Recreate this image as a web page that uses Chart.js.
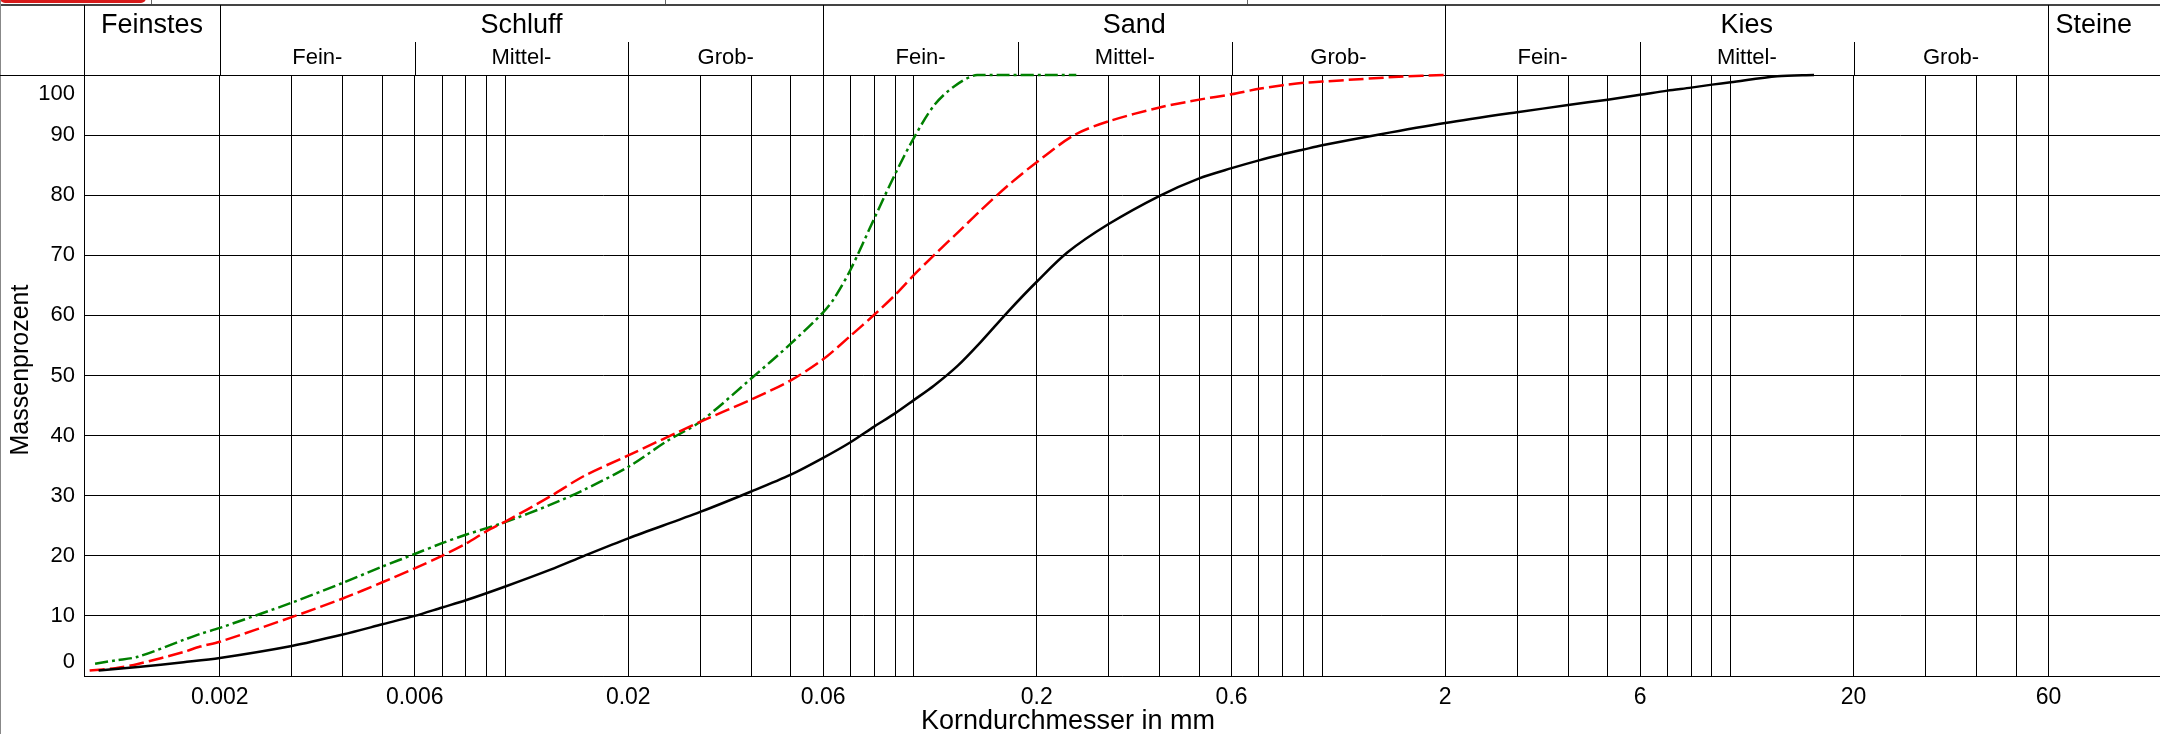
<!DOCTYPE html>
<html>
<head>
<meta charset="utf-8">
<script src="https://cdn.jsdelivr.net/npm/chart.js@4.4.1/dist/chart.umd.min.js"></script>
<style>
  html, body { margin: 0; padding: 0; background: #ffffff; }
  #wrap { position: relative; width: 2160px; height: 734px; overflow: hidden; }
  canvas { display: block; }
</style>
</head>
<body>
<div id="wrap"><canvas id="kornkurve" width="2160" height="734"></canvas></div>
<script>
const FONT = '"Liberation Sans", Arial, Helvetica, sans-serif';

// Probe 1 (schwarz, durchgezogen): Korndurchmesser in mm / Massenprozent
const d1 = [0.00101, 0.00126, 0.00163, 0.002, 0.003, 0.004, 0.005, 0.006, 0.007, 0.008, 0.01, 0.0129, 0.0156, 0.02, 0.03, 0.04, 0.05, 0.06, 0.07, 0.08, 0.09, 0.1, 0.112, 0.128, 0.146, 0.17, 0.2, 0.238, 0.3, 0.4, 0.5, 0.6, 0.7, 0.8, 0.9, 1.0, 1.38, 2, 3, 4, 5, 6, 7, 8, 9, 10, 13, 16];
const p1 = [0.9, 1.5, 2.3, 3.0, 5.0, 6.9, 8.6, 10.0, 11.4, 12.6, 14.9, 17.7, 20.0, 22.9, 27.3, 30.7, 33.5, 36.3, 38.9, 41.5, 43.7, 45.9, 48.3, 51.6, 55.6, 60.6, 65.6, 70.5, 75.2, 79.9, 82.8, 84.5, 85.8, 86.8, 87.6, 88.3, 90.1, 92.0, 93.8, 95.0, 95.9, 96.7, 97.4, 97.9, 98.4, 98.8, 99.8, 100];

// Probe 2 (rot, gestrichelt)
const d2 = [0.00096, 0.00111, 0.00126, 0.00163, 0.00179, 0.002, 0.003, 0.004, 0.005, 0.006, 0.007, 0.008, 0.009, 0.01, 0.0129, 0.0156, 0.02, 0.03, 0.04, 0.05, 0.06, 0.07, 0.08, 0.09, 0.1, 0.112, 0.13, 0.146, 0.17, 0.2, 0.247, 0.3, 0.4, 0.5, 0.6, 0.7, 0.8, 0.9, 1.0, 1.23, 1.54, 2.0];
const p2 = [0.9, 1.3, 2.0, 4.0, 4.9, 5.7, 9.8, 12.9, 15.6, 17.9, 20.0, 22.0, 24.1, 25.7, 29.9, 33.3, 36.7, 42.3, 46.0, 49.2, 52.7, 56.6, 60.1, 63.4, 66.7, 70.0, 74.2, 77.5, 81.6, 85.5, 90.0, 92.3, 94.6, 95.9, 96.8, 97.7, 98.3, 98.7, 98.9, 99.3, 99.7, 100];

// Probe 3 (grün, strichpunktiert)
const d3 = [0.00099, 0.00111, 0.00126, 0.00163, 0.00179, 0.002, 0.003, 0.004, 0.005, 0.006, 0.007, 0.008, 0.009, 0.01, 0.0129, 0.0156, 0.02, 0.0249, 0.03, 0.04, 0.05, 0.06, 0.0638, 0.07, 0.08, 0.09, 0.1, 0.112, 0.1255, 0.143, 0.25];
const p3 = [2.05, 2.6, 3.2, 6.0, 7.0, 8.0, 12.2, 15.5, 18.2, 20.3, 22.1, 23.5, 24.6, 25.6, 28.5, 31.0, 34.8, 39.1, 42.3, 49.5, 55.3, 60.5, 62.8, 67.6, 76.1, 83.5, 89.5, 94.9, 98.1, 100, 100];

// Achsen
const xTickLabels = ['0.002', '0.006', '0.02', '0.06', '0.2', '0.6', '2', '6', '20', '60'];
const yTickValues = [0, 10, 20, 30, 40, 50, 60, 70, 80, 90, 100];
const X_MIN = 0.00093;
const X_MAX = 112.5;

// Kornfraktionen (Kopfzeile)
const mainNames = ['Feinstes', 'Schluff', 'Sand', 'Kies', 'Steine'];
const mainEdges = [X_MIN, 0.002, 0.06, 2, 60, 100];
const subNames = ['Fein-', 'Mittel-', 'Grob-'];

// Gitterlinien: 1..9 je Dekade zwischen 0.002 und 60 mm
const gridValues = [];
for (let e = -3; e <= 1; e++) {
  for (let k = 1; k <= 9; k++) {
    const v = +(k * Math.pow(10, e)).toPrecision(6);
    if (v >= 0.002 - 1e-9 && v <= 60 + 1e-9) gridValues.push(v);
  }
}

function toPoints(ds, ps) { return ds.map((d, i) => ({ x: d, y: ps[i] })); }

function labelFor(v) {
  for (const t of xTickLabels) {
    if (Math.abs(parseFloat(t) / v - 1) < 1e-6) return t;
  }
  return '';
}

const TOP_Y = 5;
const SUB_Y = 42;

const headerPlugin = {
  id: 'kornHeader',
  // Rahmen und Trennlinien liegen unter den Kurven
  beforeDatasetsDraw(chart) {
    const ctx = chart.ctx;
    const xs = chart.scales.x;
    const area = chart.chartArea;
    const W = chart.width, H = chart.height;
    const px = v => xs.getPixelForValue(v);
    const top = Math.round(area.top);

    ctx.save();
    ctx.fillStyle = '#d71a1a';
    ctx.beginPath();
    ctx.roundRect(0, -8, 146, 11, 5);
    ctx.fill();
    ctx.fillStyle = '#666';
    [151, 665, 1247].forEach(x => ctx.fillRect(x, 0, 1, TOP_Y));

    ctx.fillStyle = '#444';
    ctx.fillRect(0, TOP_Y - 1, W, 2);
    ctx.fillStyle = '#888';
    ctx.fillRect(0, 0, 1, H);
    ctx.fillStyle = '#000';
    ctx.fillRect(Math.round(area.left), TOP_Y, 1, top - TOP_Y);
    ctx.fillRect(0, top, W, 1);

    for (let i = 1; i <= 4; i++) {
      ctx.fillRect(Math.round(px(mainEdges[i])), TOP_Y, 1, top - TOP_Y);
    }
    for (let i = 1; i <= 3; i++) {
      const a = mainEdges[i];
      [a * 3, a * 10].forEach(v => ctx.fillRect(Math.round(px(v)), SUB_Y, 1, top - SUB_Y));
    }
    ctx.restore();
  },
  afterDraw(chart) {
    const ctx = chart.ctx;
    const xs = chart.scales.x;
    const ys = chart.scales.y;
    const area = chart.chartArea;
    const px = v => xs.getPixelForValue(v);

    ctx.save();
    ctx.fillStyle = '#000';
    ctx.font = '27px ' + FONT;
    ctx.textAlign = 'center';
    ctx.textBaseline = 'alphabetic';
    for (let i = 0; i < 5; i++) {
      const l = i === 0 ? area.left : px(mainEdges[i]);
      const r = px(mainEdges[i + 1]);
      ctx.fillText(mainNames[i], (l + r) / 2, 33);
    }

    ctx.font = '22px ' + FONT;
    for (let i = 1; i <= 3; i++) {
      const a = mainEdges[i];
      const edges = [a, a * 3, a * 10, mainEdges[i + 1]];
      for (let j = 0; j < 3; j++) {
        ctx.fillText(subNames[j], (px(edges[j]) + px(edges[j + 1])) / 2, 64);
      }
    }

    // y-Beschriftung
    ctx.font = '22px ' + FONT;
    ctx.textAlign = 'right';
    ctx.textBaseline = 'middle';
    yTickValues.forEach(v => {
      let y = ys.getPixelForValue(v);
      if (v === 100) y += 19;
      if (v === 0) y -= 14;
      ctx.fillText(String(v), 75, y);
    });

    // Achsentitel
    ctx.font = '27px ' + FONT;
    ctx.textAlign = 'center';
    ctx.fillText('Korndurchmesser in mm', 1068, 722);
    ctx.save();
    ctx.translate(21, 370);
    ctx.rotate(-Math.PI / 2);
    ctx.font = '25px ' + FONT;
    ctx.fillText('Massenprozent', 0, 0);
    ctx.restore();

    ctx.restore();
  }
};

const lineBase = { pointRadius: 0, fill: false, tension: 0.3, borderWidth: 2.5, clip: false };

const ctx = document.getElementById('kornkurve').getContext('2d');
new Chart(ctx, {
  type: 'line',
  data: {
    datasets: [
      Object.assign({ label: 'Probe 1', data: toPoints(d1, p1), borderColor: '#000000' }, lineBase),
      Object.assign({ label: 'Probe 2', data: toPoints(d2, p2), borderColor: '#ff0000', borderDash: [15, 5] }, lineBase),
      Object.assign({ label: 'Probe 3', data: toPoints(d3, p3), borderColor: '#008000', borderDash: [13, 4, 3, 4] }, lineBase)
    ]
  },
  options: {
    responsive: false,
    animation: false,
    devicePixelRatio: 1,
    layout: { padding: { top: 75, left: 0, right: 0, bottom: 0 } },
    plugins: {
      legend: { display: false },
      tooltip: { enabled: false },
      title: { display: false }
    },
    scales: {
      x: {
        type: 'logarithmic',
        min: X_MIN,
        max: X_MAX,
        afterBuildTicks: s => { s.ticks = gridValues.map(v => ({ value: v })); },
        afterFit: s => { s.height = 58; },
        ticks: {
          autoSkip: false,
          maxRotation: 0,
          minRotation: 0,
          padding: 8,
          color: '#000',
          font: { family: FONT, size: 23 },
          callback: v => labelFor(v)
        },
        grid: { color: '#000', lineWidth: 1, drawTicks: false },
        border: { display: true, color: '#000', width: 1 }
      },
      y: {
        min: 0,
        max: 100,
        afterBuildTicks: s => { s.ticks = yTickValues.map(v => ({ value: v })); },
        afterFit: s => { s.width = 84; },
        ticks: { display: false },
        grid: { color: '#000', lineWidth: 1, drawTicks: false },
        border: { display: true, color: '#000', width: 1 }
      }
    }
  },
  plugins: [headerPlugin]
});
</script>
</body>
</html>
